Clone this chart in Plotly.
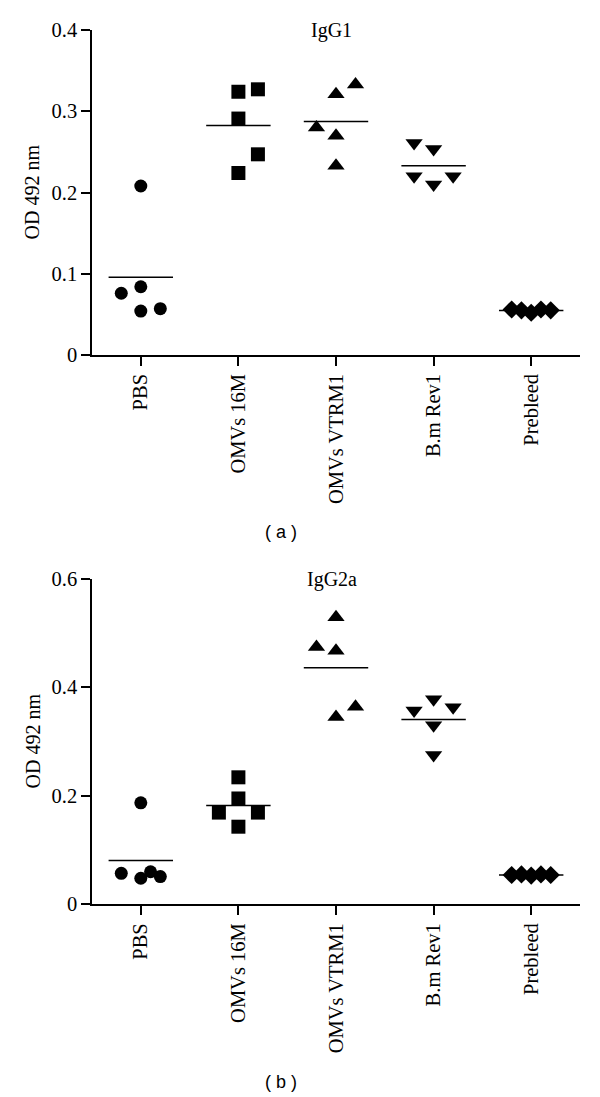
import plotly.graph_objects as go
from plotly.subplots import make_subplots

# Groups on the x axis
groups = ["PBS", "OMVs 16M", "OMVs VTRM1", "B.m Rev1", "Prebleed"]

# IgG1 (panel a), OD 492 nm for each mouse
igg1_pbs = [0.208, 0.076, 0.084, 0.054, 0.057]
igg1_16m = [0.324, 0.327, 0.291, 0.247, 0.224]
igg1_vtrm1 = [0.333, 0.321, 0.280, 0.270, 0.233]
igg1_rev1 = [0.261, 0.2535, 0.220, 0.210, 0.220]
igg1_prebleed = [0.056, 0.055, 0.052, 0.056, 0.055]

# IgG2a (panel b)
igg2a_pbs = [0.187, 0.057, 0.048, 0.060, 0.051]
igg2a_16m = [0.234, 0.195, 0.169, 0.169, 0.143]
igg2a_vtrm1 = [0.529, 0.474, 0.467, 0.345, 0.364]
igg2a_rev1 = [0.357, 0.378, 0.363, 0.330, 0.275]
igg2a_prebleed = [0.054, 0.055, 0.053, 0.055, 0.054]

y_ticks_a = [0, 0.1, 0.2, 0.3, 0.4]
y_ticks_b = [0, 0.2, 0.4, 0.6]

# scatter spread of points around each group (x units), layout only
spread_a = [
    [0, -0.2, 0, 0, 0.2],
    [0, 0.2, 0, 0.2, 0],
    [0.2, 0, -0.2, 0, 0],
    [-0.2, 0, -0.2, 0, 0.2],
    [-0.2, -0.1, 0, 0.1, 0.2],
]
spread_b = [
    [0, -0.2, 0, 0.1, 0.2],
    [0, 0, -0.2, 0.2, 0],
    [0, -0.2, 0, 0, 0.2],
    [-0.2, 0, 0.2, 0, 0],
    [-0.2, -0.1, 0, 0.1, 0.2],
]

symbols = ["circle", "square", "triangle-up", "triangle-down", "diamond"]
sizes = [13, 14, 15, 15, 14]

panels = [
    ([igg1_pbs, igg1_16m, igg1_vtrm1, igg1_rev1, igg1_prebleed], spread_a),
    ([igg2a_pbs, igg2a_16m, igg2a_vtrm1, igg2a_rev1, igg2a_prebleed], spread_b),
]

fig = make_subplots(rows=2, cols=1)

for row, (series, spread) in enumerate(panels, start=1):
    for i, vals in enumerate(series):
        xs = [i + d for d in spread[i]]
        fig.add_trace(go.Scatter(
            x=xs, y=vals, mode="markers",
            marker=dict(symbol=symbols[i], size=sizes[i], color="black", line_width=0),
            cliponaxis=False, showlegend=False, hoverinfo="y",
        ), row=row, col=1)
        mean = sum(vals) / len(vals)
        # mean line
        fig.add_trace(go.Scatter(
            x=[i - 0.33, i + 0.33], y=[mean, mean], mode="lines",
            line=dict(color="black", width=1.5),
            cliponaxis=False, showlegend=False, hoverinfo="skip",
        ), row=row, col=1)

W, H = 600, 1097
x_dom = [92 / W, 580 / W]
dom_a = [1 - 355 / H, 1 - 30 / H]
dom_b = [1 - 904.3 / H, 1 - 578.7 / H]

axis_style = dict(
    showline=True, linecolor="black", linewidth=1.5,
    ticks="outside", ticklen=9, tickwidth=1.5, tickcolor="black",
    showgrid=False, zeroline=False, automargin=False,
    tickfont=dict(family="Liberation Serif", size=20.5, color="black"),
)

fig.update_xaxes(
    range=[-0.5, 4.5], tickvals=list(range(len(groups))), ticktext=groups,
    tickangle=-90, domain=x_dom, **axis_style,
)
fig.update_yaxes(range=[0, 0.4], tickvals=y_ticks_a, domain=dom_a, row=1, col=1, **axis_style)
fig.update_yaxes(range=[0, 0.6], tickvals=y_ticks_b, domain=dom_b, row=2, col=1, **axis_style)

serif = dict(family="Liberation Serif", size=20, color="black")
sans = dict(family="Liberation Sans", size=18, color="black")

fig.update_layout(
    width=W, height=H,
    margin=dict(l=0, r=0, t=0, b=0),
    plot_bgcolor="white", paper_bgcolor="white",
    showlegend=False,
    annotations=[
        dict(text="IgG1", x=331 / W, y=1 - 31 / H, xref="paper", yref="paper",
             showarrow=False, font=serif, xanchor="center", yanchor="middle"),
        dict(text="IgG2a", x=332 / W, y=1 - 579 / H, xref="paper", yref="paper",
             showarrow=False, font=serif, xanchor="center", yanchor="middle"),
        dict(text="OD 492 nm", x=32 / W, y=sum(dom_a) / 2, xref="paper", yref="paper",
             showarrow=False, font=serif, textangle=-90, xanchor="center", yanchor="middle"),
        dict(text="OD 492 nm", x=32 / W, y=sum(dom_b) / 2, xref="paper", yref="paper",
             showarrow=False, font=serif, textangle=-90, xanchor="center", yanchor="middle"),
        dict(text="( a )", x=281 / W, y=1 - 532 / H, xref="paper", yref="paper",
             showarrow=False, font=sans, xanchor="center", yanchor="middle"),
        dict(text="( b )", x=281 / W, y=1 - 1082 / H, xref="paper", yref="paper",
             showarrow=False, font=sans, xanchor="center", yanchor="middle"),
    ],
)

# the page body has a default 8px margin; drop it so the figure fills the window
fig.write_html(
    "out.html",
    config={"displayModeBar": False},
    post_script="document.body.style.margin = '0';",
)
